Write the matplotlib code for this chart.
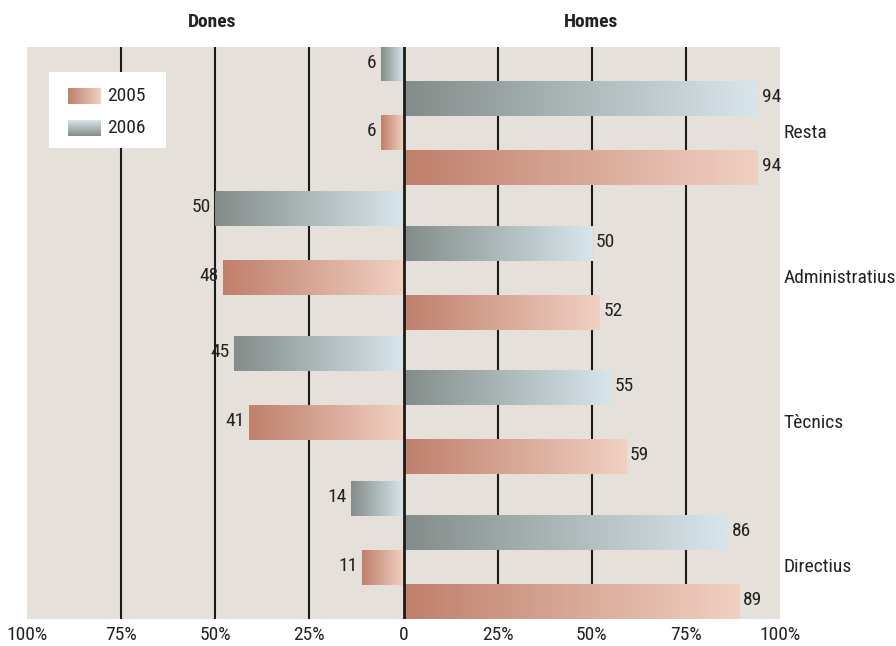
import numpy as np
import matplotlib
matplotlib.use("Agg")
import matplotlib.pyplot as plt
from matplotlib.colors import LinearSegmentedColormap

plt.rcParams['font.family'] = ['Roboto Condensed', 'Roboto', 'DejaVu Sans']

categories = ['Resta', 'Administratius', 'Tècnics', 'Directius']
dones_2006 = [6, 50, 45, 14]
homes_2006 = [94, 50, 55, 86]
dones_2005 = [6, 48, 41, 11]
homes_2005 = [94, 52, 59, 89]
years = ['2005', '2006']
tick_values = [-100, -75, -50, -25, 0, 25, 50, 75, 100]
tick_labels = ['100%', '75%', '50%', '25%', '0', '25%', '50%', '75%', '100%']

cmap_2005 = LinearSegmentedColormap.from_list('c2005', ['#bf7f6b', '#f1d0c2'])
cmap_2006 = LinearSegmentedColormap.from_list('c2006', ['#838c89', '#d8e5eb'])
grad = np.linspace(0, 1, 256).reshape(1, -1)
TXT = '#222222'

fig = plt.figure(figsize=(8.96, 6.46), dpi=100)
ax = fig.add_axes([27 / 896, 1 - 619 / 646, 753 / 896, 572 / 646])
ax.set_facecolor('#e5e0d9')

gap = 0.2
n_rows = 4 * len(categories) + gap * (len(categories) - 1)


def gbar(x0, x1, top, cmap):
    ax.imshow(grad, extent=[x0, x1, top + 1, top], aspect='auto', cmap=cmap,
              interpolation='bilinear', zorder=3)


for i, cat in enumerate(categories):
    base = i * (4 + gap)
    rows = [
        (-dones_2006[i], cmap_2006, base),
        (homes_2006[i], cmap_2006, base + 1),
        (-dones_2005[i], cmap_2005, base + 2),
        (homes_2005[i], cmap_2005, base + 3),
    ]
    for val, cmap, top in rows:
        if val < 0:
            gbar(val, 0, top, cmap)
            ax.annotate(f'{-val}', (val, top + 0.45), xytext=(-3, 0),
                        textcoords='offset points', ha='right', va='center',
                        fontsize=14, color=TXT, zorder=5)
        else:
            gbar(0, val, top, cmap)
            ax.annotate(f'{val}', (val, top + 0.45), xytext=(3, 0),
                        textcoords='offset points', ha='left', va='center',
                        fontsize=14, color=TXT, zorder=5)
    ax.text(101, base + 2.5, cat, ha='left', va='center', fontsize=14,
            color=TXT, clip_on=False)

for v in [-75, -50, -25, 25, 50, 75]:
    ax.axvline(v, color='#1a1a1a', lw=1.5, zorder=1)
ax.axvline(0, color='#1a1a1a', lw=2, zorder=4)

ax.set_xlim(-100, 100)
ax.set_ylim(n_rows, 0)
ax.set_xticks(tick_values)
ax.set_xticklabels(tick_labels, fontsize=14, color=TXT)
ax.tick_params(axis='x', length=0, pad=5)
ax.set_yticks([])
for s in ax.spines.values():
    s.set_visible(False)

fig.text(212 / 896, 1 - 22 / 646, 'Dones', ha='center', va='center',
         fontsize=14, fontweight='bold', color=TXT)
fig.text(591 / 896, 1 - 22 / 646, 'Homes', ha='center', va='center',
         fontsize=14, fontweight='bold', color=TXT)

# legend box
lax = fig.add_axes([49 / 896, 1 - 148 / 646, 117 / 896, 76 / 646])
lax.set_facecolor('white')
for s in lax.spines.values():
    s.set_visible(False)
lax.set_xticks([])
lax.set_yticks([])
lax.imshow(grad, extent=[19, 51, 32, 16], aspect='auto', cmap=cmap_2005,
           interpolation='bilinear')
lax.imshow(grad.T[::-1], extent=[19, 51, 64, 48], aspect='auto', cmap=cmap_2006,
           interpolation='bilinear')
lax.set_xlim(0, 117)
lax.set_ylim(76, 0)
lax.text(58, 24, years[0], ha='left', va='center', fontsize=14, color=TXT)
lax.text(58, 56, years[1], ha='left', va='center', fontsize=14, color=TXT)

fig.savefig('out.png', dpi=100)
